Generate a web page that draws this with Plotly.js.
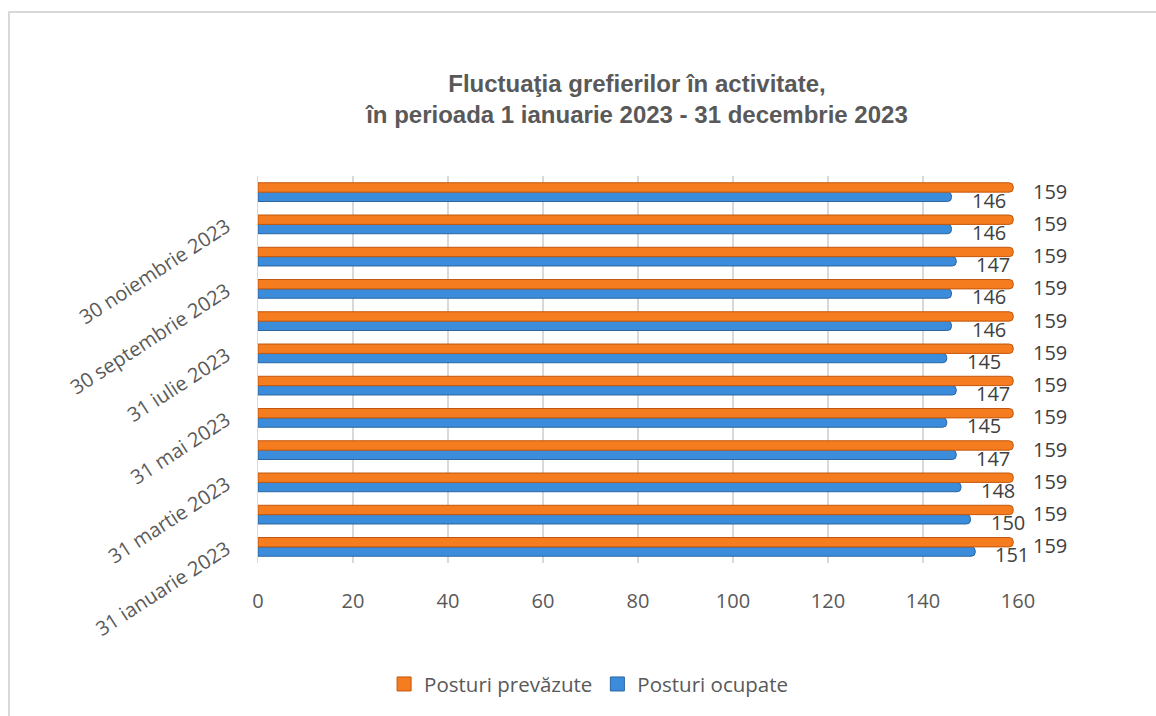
<!DOCTYPE html>
<html>
<head>
<meta charset="utf-8">
<script src="https://cdn.plot.ly/plotly-3.0.1.min.js"></script>
<style>
html,body{margin:0;padding:0;background:#fff;}
#frame{position:absolute;left:8px;top:11px;width:1200px;height:800px;border-left:2px solid #d9d9d9;border-top:2px solid #d9d9d9;pointer-events:none;}
#chart{position:absolute;left:0;top:0;width:1156px;height:716px;}
</style>
</head>
<body>
<div id="chart"></div>
<div id="frame"></div>
<script>
const categories = [
  "31 ianuarie 2023", "28 februarie 2023", "31 martie 2023", "30 aprilie 2023",
  "31 mai 2023", "30 iunie 2023", "31 iulie 2023", "31 august 2023",
  "30 septembrie 2023", "31 octombrie 2023", "30 noiembrie 2023", "31 decembrie 2023"
];
const posturiPrevazute = [159, 159, 159, 159, 159, 159, 159, 159, 159, 159, 159, 159];
const posturiOcupate   = [151, 150, 148, 147, 145, 147, 145, 146, 146, 147, 146, 146];
const xTicks = [0, 20, 40, 60, 80, 100, 120, 140, 160];
const shownCategories = categories.filter((c, i) => i % 2 === 0);

const orange = "#f57d1f", orangeEdge = "#c2570e";
const blue = "#3b8ddc", blueEdge = "#2a64a0";
const labelFont = {family: "Open Sans, sans-serif", size: 20, color: "#404040"};

const traces = [
  {
    type: "bar", orientation: "h", name: "Posturi ocupate", showlegend: false,
    y: categories, x: posturiOcupate,
    marker: {color: blue, line: {color: blueEdge, width: 1}, cornerradius: 4},
    hoverinfo: "x+y"
  },
  {
    type: "bar", orientation: "h", name: "Posturi prevăzute", showlegend: false,
    y: categories, x: posturiPrevazute,
    marker: {color: orange, line: {color: orangeEdge, width: 1}, cornerradius: 4},
    hoverinfo: "x+y"
  },
  {
    type: "scatter", mode: "markers", name: "Posturi prevăzute",
    x: [null], y: [null], hoverinfo: "skip",
    marker: {symbol: "square", size: 14, color: orange, line: {color: orangeEdge, width: 1}}
  },
  {
    type: "scatter", mode: "markers", name: "Posturi ocupate",
    x: [null], y: [null], hoverinfo: "skip",
    marker: {symbol: "square", size: 14, color: blue, line: {color: blueEdge, width: 1}}
  }
];

const annotations = [];
categories.forEach((c, i) => {
  annotations.push({
    x: posturiPrevazute[i], y: c, xref: "x", yref: "y",
    text: String(posturiPrevazute[i]), showarrow: false,
    xanchor: "left", yanchor: "middle", xshift: 18, yshift: 1, font: labelFont
  });
  annotations.push({
    x: posturiOcupate[i], y: c, xref: "x", yref: "y",
    text: String(posturiOcupate[i]), showarrow: false,
    xanchor: "left", yanchor: "middle", xshift: 18, yshift: -8, font: labelFont
  });
});

const layout = {
  width: 1156, height: 716,
  paper_bgcolor: "rgba(0,0,0,0)", plot_bgcolor: "rgba(0,0,0,0)",
  margin: {l: 258, r: 138, t: 176, b: 153, autoexpand: false},
  font: {family: "Open Sans, sans-serif", color: "#595959"},
  title: {
    text: "<b>Fluctuaţia grefierilor în activitate,<br>în perioada 1 ianuarie 2023 - 31 decembrie 2023</b>",
    font: {family: "Liberation Sans, Arial, sans-serif", size: 24, color: "#595959"},
    x: 0.551, xanchor: "center", y: 0.872, yanchor: "middle"
  },
  barmode: "group", bargap: 0.42, bargroupgap: 0,
  xaxis: {
    range: [0, 160], tickvals: xTicks, ticktext: xTicks.map(String),
    showgrid: true, gridcolor: "#d9d9d9", gridwidth: 1.5, zeroline: false,
    showline: false, ticks: "", ticklabelstandoff: 24, automargin: false,
    tickfont: {family: "Open Sans, sans-serif", size: 20, color: "#595959"}
  },
  yaxis: {
    type: "category", categoryorder: "array", categoryarray: categories,
    range: [-0.5, categories.length - 0.5],
    tickvals: shownCategories, ticktext: shownCategories,
    tickangle: -33, showgrid: false, zeroline: false, automargin: false,
    showline: true, linecolor: "#d9d9d9", linewidth: 1.5, ticks: "",
    ticklabelstandoff: 26,
    tickfont: {family: "Open Sans, sans-serif", size: 20, color: "#595959"}
  },
  annotations: annotations,
  showlegend: true,
  legend: {
    orientation: "h", x: 0.435, xanchor: "center", y: -0.313, yanchor: "middle",
    traceorder: "normal",
    font: {family: "Open Sans, sans-serif", size: 20.5, color: "#595959"},
    itemwidth: 30
  }
};

Plotly.newPlot("chart", traces, layout, {displayModeBar: false, staticPlot: true});
</script>
</body>
</html>
